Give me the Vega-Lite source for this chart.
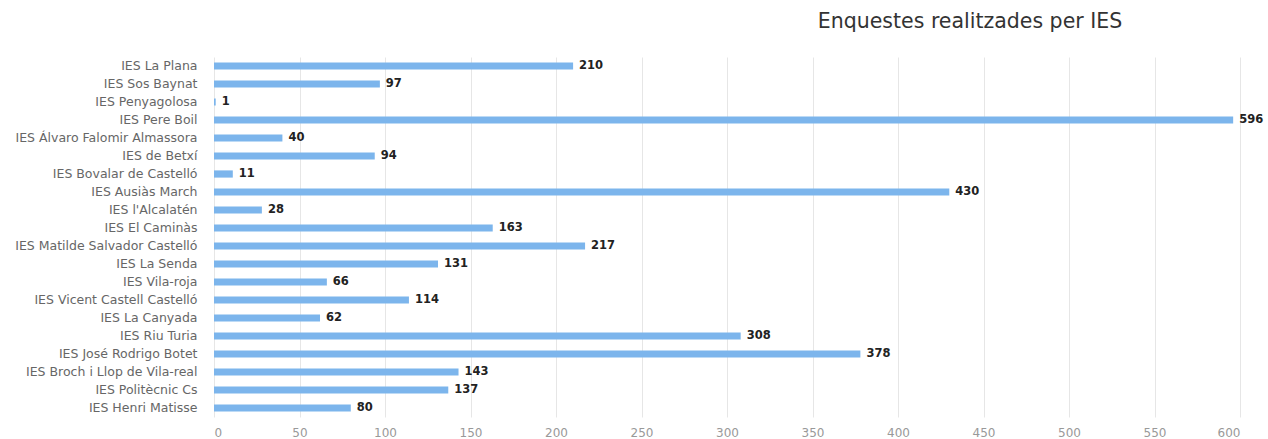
{
  "$schema": "https://vega.github.io/schema/vega-lite/v6.json",
  "autosize": "none",
  "width": 1026,
  "height": 360,
  "padding": {"left": 214, "top": 57, "right": 28, "bottom": 22},
  "background": "white",
  "title": {
    "text": "Enquestes realitzades per IES",
    "anchor": "middle",
    "dx": 243,
    "offset": 25,
    "fontSize": 20.5,
    "font": "DejaVu Sans",
    "fontWeight": "normal",
    "color": "#333333"
  },
  "data": {
    "values": [
      {"ies": "IES La Plana", "n": 210},
      {"ies": "IES Sos Baynat", "n": 97},
      {"ies": "IES Penyagolosa", "n": 1},
      {"ies": "IES Pere Boil", "n": 596},
      {"ies": "IES Álvaro Falomir Almassora", "n": 40},
      {"ies": "IES de Betxí", "n": 94},
      {"ies": "IES Bovalar de Castelló", "n": 11},
      {"ies": "IES Ausiàs March", "n": 430},
      {"ies": "IES l'Alcalatén", "n": 28},
      {"ies": "IES El Caminàs", "n": 163},
      {"ies": "IES Matilde Salvador Castelló", "n": 217},
      {"ies": "IES La Senda", "n": 131},
      {"ies": "IES Vila-roja", "n": 66},
      {"ies": "IES Vicent Castell Castelló", "n": 114},
      {"ies": "IES La Canyada", "n": 62},
      {"ies": "IES Riu Turia", "n": 308},
      {"ies": "IES José Rodrigo Botet", "n": 378},
      {"ies": "IES Broch i Llop de Vila-real", "n": 143},
      {"ies": "IES Politècnic Cs", "n": 137},
      {"ies": "IES Henri Matisse", "n": 80}
    ]
  },
  "encoding": {
    "y": {
      "field": "ies",
      "type": "nominal",
      "sort": null,
      "title": null,
      "scale": {"paddingInner": 0.6, "paddingOuter": 0.3},
      "axis": {
        "domain": false,
        "ticks": false,
        "labelPadding": 17,
        "labelFont": "DejaVu Sans",
        "labelFontSize": 12.5,
        "labelColor": "#666666",
        "labelLimit": 300,
        "grid": false
      }
    },
    "x": {
      "field": "n",
      "type": "quantitative",
      "title": null,
      "scale": {"domain": [0, 600], "nice": false},
      "axis": {
        "values": [0, 50, 100, 150, 200, 250, 300, 350, 400, 450, 500, 550, 600],
        "domain": false,
        "ticks": false,
        "labelPadding": 10,
        "labelFont": "DejaVu Sans",
        "labelFontSize": 12,
        "labelColor": "#999999",
        "gridColor": "#e6e6e6",
        "gridWidth": 1
      }
    }
  },
  "layer": [
    {
      "mark": {"type": "bar", "color": "#7cb5ec"}
    },
    {
      "mark": {
        "type": "text",
        "align": "left",
        "baseline": "middle",
        "dx": 6,
        "font": "DejaVu Sans",
        "fontSize": 11.5,
        "fontWeight": "bold",
        "color": "#222222"
      },
      "encoding": {"text": {"field": "n", "type": "quantitative"}}
    }
  ],
  "config": {"view": {"stroke": null}}
}
